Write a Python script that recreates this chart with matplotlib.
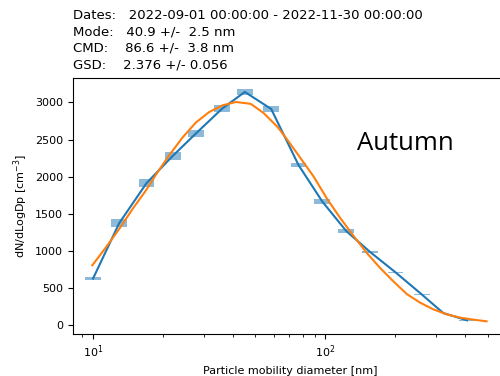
import numpy as np
import matplotlib
matplotlib.use("Agg")
import matplotlib.pyplot as plt

# measured size distribution (bin centres, dN/dlogDp, uncertainty)
dp = [10.0, 12.96, 17.0, 22.0, 27.7, 36.0, 45.0, 58.4, 76.6, 97.0,
      123, 156, 200, 260, 321, 407]
dndlogdp = [629, 1375, 1914, 2278, 2581, 2918, 3140, 2911, 2156, 1664,
            1267, 984, 714, 414, 166, 67]
err = [22, 54, 54, 54, 47, 47, 40, 40, 30, 34, 27, 15, 10, 7, 5, 5]

# lognormal fit curve
fit_dp = [9.93, 11.4, 13.0, 14.84, 16.92, 18.99, 21.29, 24.31, 27.72, 31.61,
          36.07, 41.2, 47.7, 54.2, 62.3, 68.7, 78.1, 89.1, 101.7, 116.0,
          132.3, 150.9, 172.1, 196.2, 224.0, 255.4, 291.2, 332.4, 378.9,
          432.2, 493.3]
fit_val = [808, 1055, 1303, 1572, 1819, 2065, 2290, 2530, 2730, 2870,
           2960, 3005, 2980, 2856, 2667, 2492, 2250, 1998, 1700, 1440,
           1200, 970, 770, 590, 420, 305, 215, 148, 104, 77, 54]

header = ("Dates:   2022-09-01 00:00:00 - 2022-11-30 00:00:00\n"
          "Mode:   40.9 +/-  2.5 nm\n"
          "CMD:    86.6 +/-  3.8 nm\n"
          "GSD:    2.376 +/- 0.056")

fig = plt.figure(figsize=(5, 3.76), dpi=100)
ax = fig.add_axes([0.146, 0.112, 0.87, 0.681])

dp_a = np.array(dp)
val_a = np.array(dndlogdp)
err_a = np.array(err)
half = 10 ** 0.034
ax.bar(dp_a / half, 2 * err_a, width=dp_a * half - dp_a / half,
       bottom=val_a - err_a, align="edge", color="tab:blue", alpha=0.5)
ax.plot(dp, dndlogdp, color="tab:blue", lw=1.5)
ax.plot(fit_dp, fit_val, color="tab:orange", lw=1.5)

ax.set_xscale("log")
ax.set_xlim(8.2, 610)
ax.set_ylim(-115, 3330)
ax.tick_params(labelsize=8)
ax.set_xlabel("Particle mobility diameter [nm]", fontsize=8)
ax.set_ylabel("dN/dLogDp [cm$^{-3}$]", fontsize=8)
ax.set_title(header, loc="left", fontsize=9.5, linespacing=1.33, pad=7)

ax.text(0.653, 0.72, "Autumn", transform=ax.transAxes, fontsize=18.5,
        family="Open Sans", ha="left", va="baseline")

fig.savefig("out.png", dpi=100)
